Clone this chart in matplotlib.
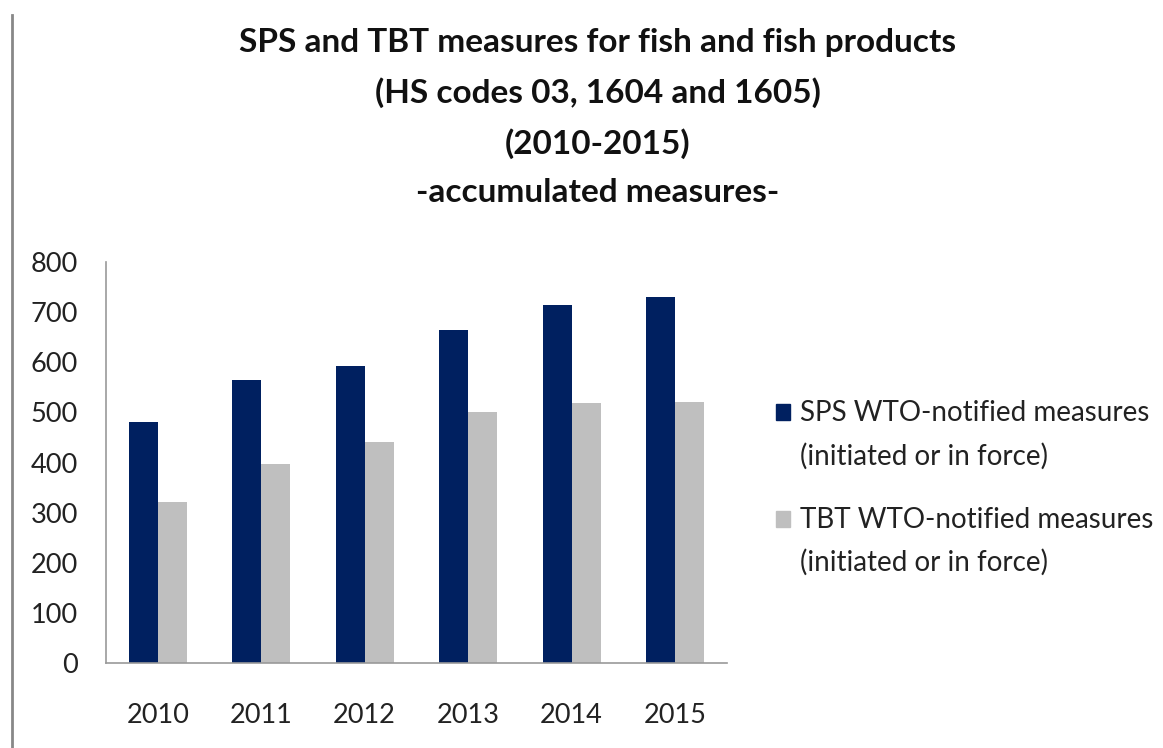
import numpy as np
import matplotlib
matplotlib.use("Agg")
import matplotlib.pyplot as plt
from matplotlib.patches import Rectangle

years = ["2010", "2011", "2012", "2013", "2014", "2015"]
sps = [481, 565, 592, 664, 714, 731]
tbt = [322, 397, 441, 501, 518, 521]
labels = ["SPS WTO-notified measures\n(initiated or in force)",
          "TBT WTO-notified measures\n(initiated or in force)"]
colors = ["#002060", "#BFBFBF"]

plt.rcParams['font.family'] = ['Lato', 'DejaVu Sans']

fig = plt.figure(figsize=(11.63, 7.48), dpi=100)
ax = fig.add_axes([0.0911, 0.1136, 0.5339, 0.5361])

x = np.arange(len(years))
w = 0.28
ax.bar(x - w / 2, sps, w, color=colors[0], label=labels[0])
ax.bar(x + w / 2, tbt, w, color=colors[1], label=labels[1])

ax.set_xlim(-0.5, 5.5)
ax.set_ylim(0, 800)
ax.set_yticks(range(0, 801, 100))
ax.set_xticks(x)
ax.set_xticklabels(years)
ax.tick_params(axis="both", length=0, labelsize=19.5, colors="#222222")
ax.tick_params(axis="y", pad=20)
ax.tick_params(axis="x", pad=29)
for s in ["top", "right"]:
    ax.spines[s].set_visible(False)
for s in ["left", "bottom"]:
    ax.spines[s].set_color("#999999")
    ax.spines[s].set_linewidth(1.2)

fig.text(0.514, 0.962, "SPS and TBT measures for fish and fish products\n"
         "(HS codes 03, 1604 and 1605)\n(2010-2015)\n-accumulated measures-",
         ha="center", va="top", fontsize=24, fontweight="bold",
         linespacing=1.78, color="#111111")

# legend drawn by hand so the square sits on the first text line
leg_sq_y = [0.4385, 0.295]
leg_txt_y = [0.4184, 0.276]
for c, lab, sy, ty in zip(colors, labels, leg_sq_y, leg_txt_y):
    fig.add_artist(Rectangle((0.667, sy), 0.012, 0.0214, color=c,
                             transform=fig.transFigure))
    fig.text(0.688, ty, lab, ha="left", va="center", fontsize=20,
             linespacing=1.75, color="#222222")

# page border on the left
fig.add_artist(plt.Line2D([0.0103, 0.0103], [0, 0.98], color="#888888", lw=2))

fig.savefig("out.png", dpi=100)
